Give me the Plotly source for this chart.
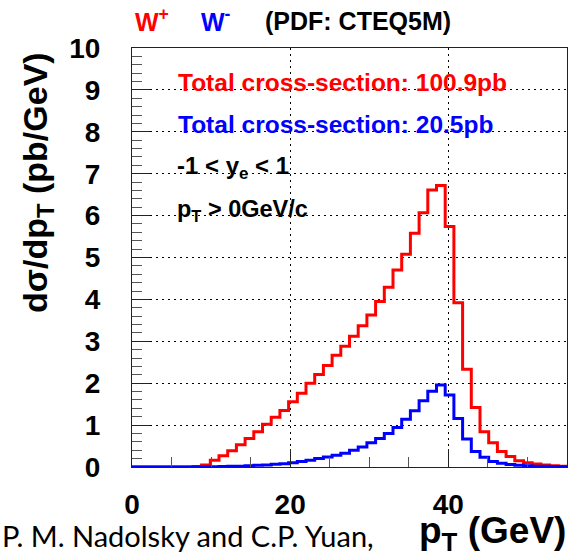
import numpy as np
import plotly.graph_objects as go

# ---- data ----
bin_width = 1.1          # GeV, 50 bins from 0 to 55
n_bins = 50
w_plus = [0, 0, 0, 0, 0, 0, 0, 0.01, 0.05, 0.16,
          0.27, 0.39, 0.53, 0.68, 0.84, 1.02, 1.19, 1.35, 1.56, 1.76,
          2.00, 2.21, 2.42, 2.67, 2.88, 3.12, 3.37, 3.63, 3.95, 4.29,
          4.70, 5.08, 5.58, 6.07, 6.61, 6.72, 5.74, 3.92, 2.33, 1.42,
          0.84, 0.58, 0.37, 0.25, 0.15, 0.10, 0.07, 0.05, 0.03, 0.02]
w_minus = [0, 0, 0, 0, 0, 0, 0, 0, 0, 0.005,
           0.01, 0.015, 0.02, 0.03, 0.04, 0.05, 0.065, 0.08, 0.10, 0.13,
           0.16, 0.20, 0.24, 0.28, 0.33, 0.40, 0.48, 0.58, 0.68, 0.80,
           0.94, 1.14, 1.34, 1.58, 1.81, 1.96, 1.72, 1.16, 0.67, 0.37,
           0.23, 0.13, 0.09, 0.06, 0.04, 0.03, 0.02, 0.015, 0.01, 0.005]
x_ticks = [0, 20, 40]
x_tick_labels = ["0", "20", "40"]
y_ticks = list(range(0, 11))

edges = np.arange(n_bins + 1) * bin_width

# ---- layout geometry ----
W, H = 570, 555
L, R, T, B = 132, 3, 48, 88
pw, ph = W - L - R, H - T - B


def px(x):
    return (x - L) / pw


def py(y):
    return (H - B - y) / ph


FAM = "Liberation Sans, Arial, sans-serif"
BOLD = dict(family=FAM, color="black", weight="bold")

fig = go.Figure()
fig.add_trace(go.Scatter(x=edges, y=w_plus + [w_plus[-1]], mode="lines",
                         line=dict(color="#ff0000", width=3, shape="hv"),
                         showlegend=False, hoverinfo="skip"))
fig.add_trace(go.Scatter(x=edges, y=w_minus + [w_minus[-1]], mode="lines",
                         line=dict(color="#0000ff", width=3, shape="hv"),
                         showlegend=False, hoverinfo="skip"))

axis_common = dict(
    showline=True, linecolor="#222", linewidth=1, mirror=True,
    ticks="inside", ticklen=18, tickwidth=1, tickcolor="#222",
    showgrid=True, gridcolor="black", gridwidth=1, griddash="2px,4px",
    zeroline=False, tickfont=dict(size=28, **BOLD),
)

fig.update_layout(
    width=W, height=H,
    margin=dict(l=L, r=R, t=T, b=B),
    paper_bgcolor="white", plot_bgcolor="white",
    xaxis=dict(range=[0, 55], tickvals=x_ticks, ticktext=x_tick_labels,
               minor=dict(dtick=5, tick0=0, ticks="inside", ticklen=10, tickcolor="#555",
                          showgrid=False),
               ticklabelstandoff=12, **axis_common),
    yaxis=dict(range=[0, 10], tickvals=y_ticks,
               minor=dict(dtick=0.2, tick0=0, ticks="inside", ticklen=10, tickcolor="#555",
                          showgrid=False),
               ticklabelstandoff=25, **axis_common),
)

ann = []
# axis titles
ann.append(dict(text="dσ/dp<sub>T</sub> (pb/GeV)", x=px(37), y=py(183), xref="paper", yref="paper",
                textangle=-90, showarrow=False, xanchor="center", yanchor="middle",
                font=dict(size=34, **BOLD)))
ann.append(dict(text="p<sub>T</sub> (GeV)", x=px(568), y=py(533), xref="paper", yref="paper",
                showarrow=False, xanchor="right", yanchor="middle",
                font=dict(size=37, **BOLD)))
# top labels
ann.append(dict(text="W<sup>+</sup>", x=px(133), y=py(20), xref="paper", yref="paper",
                showarrow=False, xanchor="left", yanchor="middle",
                font=dict(size=25, family=FAM, weight="bold", color="#ff0000")))
ann.append(dict(text="W<sup>-</sup>", x=px(199), y=py(20), xref="paper", yref="paper",
                showarrow=False, xanchor="left", yanchor="middle",
                font=dict(size=25, family=FAM, weight="bold", color="#0000ff")))
ann.append(dict(text="(PDF: CTEQ5M)", x=px(263), y=py(21), xref="paper", yref="paper",
                showarrow=False, xanchor="left", yanchor="middle",
                font=dict(size=25, **BOLD)))
# in-plot texts
ann.append(dict(text="Total cross-section: 100.9pb", x=px(176), y=py(83), xref="paper", yref="paper",
                showarrow=False, xanchor="left", yanchor="middle",
                font=dict(size=24.5, family=FAM, weight="bold", color="#ff0000")))
ann.append(dict(text="Total cross-section: 20.5pb", x=px(176), y=py(124), xref="paper", yref="paper",
                showarrow=False, xanchor="left", yanchor="middle",
                font=dict(size=24.5, family=FAM, weight="bold", color="#0000ff")))
ann.append(dict(text="-1 &lt; y<sub>e</sub> &lt; 1", x=px(175), y=py(167), xref="paper", yref="paper",
                showarrow=False, xanchor="left", yanchor="middle",
                font=dict(size=24, **BOLD)))
ann.append(dict(text="p<sub>T</sub> &gt; 0GeV/c", x=px(175), y=py(210), xref="paper", yref="paper",
                showarrow=False, xanchor="left", yanchor="middle",
                font=dict(size=23.5, **BOLD)))
# caption fragment
ann.append(dict(text="P. M. Nadolsky and C.P. Yuan,", x=px(0), y=py(535), xref="paper", yref="paper",
                showarrow=False, xanchor="left", yanchor="middle",
                font=dict(size=29, family="Lato, Open Sans, sans-serif", color="black")))
fig.update_layout(annotations=ann)

fig.write_html("out.html")
